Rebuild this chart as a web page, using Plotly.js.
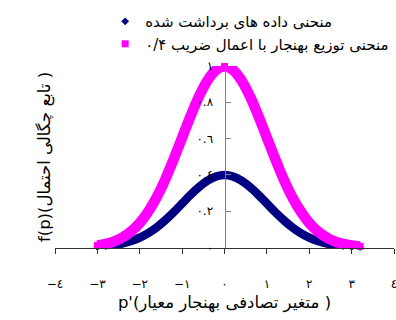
<!DOCTYPE html>
<html>
<head>
<meta charset="utf-8">
<script src="https://cdn.plot.ly/plotly-3.0.1.min.js"></script>
<style>
html,body{margin:0;padding:0;background:#fff;}
#chart{width:396px;height:320px;}
</style>
</head>
<body>
<div id="chart"></div>
<script>
// p' values (standard normal variate)
var pValues = [-3.0,-2.8,-2.6,-2.4,-2.2,-2.0,-1.8,-1.6,-1.4,-1.2,-1.0,-0.8,-0.6,-0.4,-0.2,0.0,
               0.2,0.4,0.6,0.8,1.0,1.2,1.4,1.6,1.8,2.0,2.2,2.4,2.6,2.8,3.0,3.2];
// measured data curve
var dataCurve = [0.004,0.008,0.014,0.022,0.035,0.054,0.079,0.111,0.150,0.194,0.242,0.290,0.333,0.368,0.391,0.399,
                 0.391,0.368,0.333,0.290,0.242,0.194,0.150,0.111,0.079,0.054,0.035,0.022,0.014,0.008,0.004,0.002];
// normal distribution curve with factor 0.4 applied
var normalCurve = [0.011,0.020,0.034,0.056,0.089,0.135,0.198,0.277,0.374,0.486,0.605,0.724,0.833,0.921,0.978,0.997,
                   0.978,0.921,0.833,0.724,0.605,0.486,0.374,0.277,0.198,0.135,0.089,0.056,0.034,0.020,0.011,0.006];

var seriesNames = ["منحنی داده های برداشت شده", "منحنی توزیع بهنجار با اعمال ضریب ۰/۴"];

var xTickVals = [-4,-3,-2,-1,0,1,2,3,4];
var xTickText = ["−٤","−٣","−٢","−١","٠","١","٢","٣","٤"];
var yTickVals = [0,0.2,0.4,0.6,0.8,1];
var yTickText = ["٠","٠.٢","٠.٤","٠.٦","٠.٨","١"];

var xTitle = "p'(متغیر تصادفی بهنجار معیار )";
var yTitle = "f(p)(تابع چگالی احتمال )";

var FONT = 'Tahoma, "DejaVu Sans", sans-serif';
var BLUE = "#000080", PINK = "#FF00FF";

var traces = [
  {x: pValues, y: dataCurve, type: "scatter", mode: "markers", name: seriesNames[0],
   marker: {symbol: "diamond", size: 6, color: BLUE}, cliponaxis: false},
  {x: pValues, y: dataCurve, type: "scatter", mode: "lines", showlegend: false,
   line: {color: BLUE, width: 8.5, shape: "spline"}, cliponaxis: false},
  {x: pValues, y: normalCurve, type: "scatter", mode: "markers", name: seriesNames[1],
   marker: {symbol: "square", size: 7, color: PINK}, cliponaxis: false},
  {x: pValues, y: normalCurve, type: "scatter", mode: "lines", showlegend: false,
   line: {color: PINK, width: 10.5, shape: "spline"}, cliponaxis: false}
];

var layout = {
  width: 396, height: 320,
  margin: {l: 55, r: 2, t: 66, b: 72, autoexpand: false},
  paper_bgcolor: "#fff", plot_bgcolor: "#fff",
  font: {family: FONT, size: 12, color: "#000"},
  showlegend: true,
  legend: {x: 0.148, y: 1.335, xanchor: "left", yanchor: "top",
           font: {family: FONT, size: 15, color: "#000"},
           bgcolor: "rgba(0,0,0,0)", tracegroupgap: 0},
  xaxis: {range: [-4, 4], domain: [0, 1], tickvals: xTickVals, ticktext: xTickText,
          showgrid: false, zeroline: false, showline: true, linecolor: "#333", linewidth: 1,
          ticks: "outside", ticklen: 5, tickcolor: "#333", ticklabelstandoff: 20,
          ticklabeloverflow: "allow",
          tickfont: {family: FONT, size: 12, color: "#000"},
          title: {text: xTitle, font: {family: FONT, size: 16.5, color: "#000"}, standoff: 6},
          automargin: false, fixedrange: true},
  yaxis: {range: [-0.003, 1], anchor: "free", position: 0.5, side: "left",
          tickvals: yTickVals, ticktext: yTickText, layer: "above traces",
          showgrid: false, zeroline: false, showline: true, linecolor: "#808080", linewidth: 1,
          ticks: "inside", ticklen: 5, tickcolor: "#808080", ticklabelstandoff: 9,
          ticklabeloverflow: "allow",
          tickfont: {family: FONT, size: 12, color: "#000"},
          title: {text: yTitle, font: {family: FONT, size: 16.5, color: "#000"}, standoff: 140},
          automargin: false, fixedrange: true}
};

Plotly.newPlot("chart", traces, layout, {displayModeBar: false, staticPlot: true});
</script>
</body>
</html>
